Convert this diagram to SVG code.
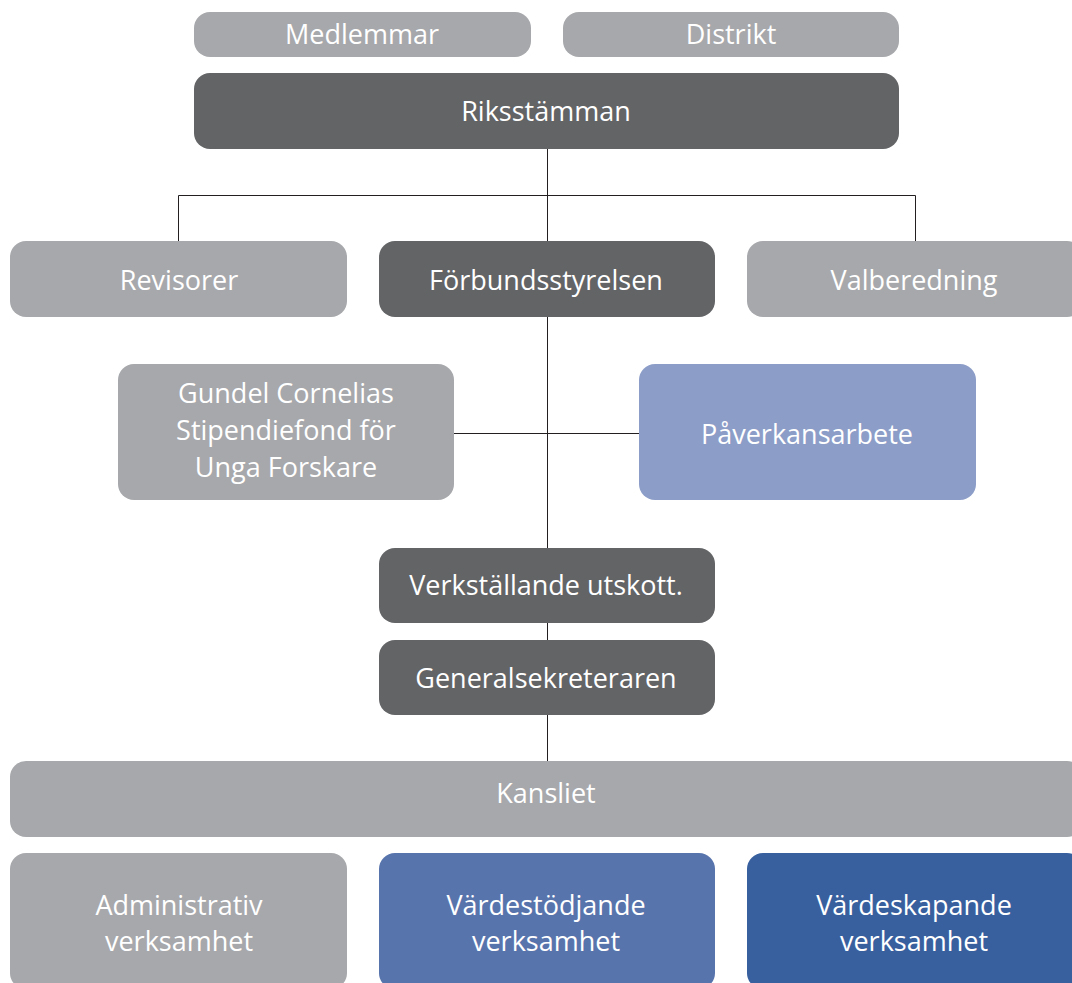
<svg xmlns="http://www.w3.org/2000/svg" width="1072" height="983" viewBox="0 0 1072 983">
<style>
.lg{fill:#a7a8ab}
.dk{fill:#636466}
.b1{fill:#8c9dc8}
.b2{fill:#5874ad}
.b3{fill:#38609f}
text{font-family:"Open Sans","Noto Sans",sans-serif;font-size:27px;fill:#ffffff;text-anchor:middle}
.c{stroke:#231f20;stroke-width:1;fill:none}
</style>
<rect width="1072" height="983" fill="#ffffff"/>
<g id="connectors">
<path class="c" d="M547.5 149V241M178.5 241V195.5H915.5V241M547.5 317V548M454 433.5H639M547.5 623V640M547.5 715V761"/>
</g>
<g id="medlemmar"><rect class="lg" x="194" y="12" width="337" height="45" rx="16"/><text x="362" y="44">Medlemmar</text></g>
<g id="distrikt"><rect class="lg" x="563" y="12" width="336" height="45" rx="16"/><text x="731" y="44">Distrikt</text></g>
<g id="riksstamman"><rect class="dk" x="194" y="73" width="705" height="76" rx="16"/><text x="546" y="121">Riksstämman</text></g>
<g id="revisorer"><rect class="lg" x="10" y="241" width="337" height="76" rx="16"/><text x="179" y="290">Revisorer</text></g>
<g id="forbundsstyrelsen"><rect class="dk" x="379" y="241" width="336" height="76" rx="16"/><text x="546" y="290">Förbundsstyrelsen</text></g>
<g id="valberedning"><rect class="lg" x="747" y="241" width="336" height="76" rx="16"/><text x="914" y="290">Valberedning</text></g>
<g id="gundel"><rect class="lg" x="118" y="364" width="336" height="136" rx="16"/><text x="286" y="403">Gundel Cornelias</text><text x="286" y="440">Stipendiefond för</text><text x="286" y="477">Unga Forskare</text></g>
<g id="paverkansarbete"><rect class="b1" x="639" y="364" width="337" height="136" rx="16"/><text x="807" y="444">Påverkansarbete</text></g>
<g id="verkstallande"><rect class="dk" x="379" y="548" width="336" height="75" rx="16"/><text x="546" y="595">Verkställande utskott.</text></g>
<g id="generalsekreteraren"><rect class="dk" x="379" y="640" width="336" height="75" rx="16"/><text x="546" y="688">Generalsekreteraren</text></g>
<g id="kansliet"><rect class="lg" x="10" y="761" width="1073" height="76" rx="16"/><text x="546" y="803">Kansliet</text></g>
<g id="administrativ"><rect class="lg" x="10" y="853" width="337" height="136" rx="16"/><text x="179" y="915">Administrativ</text><text x="179" y="951">verksamhet</text></g>
<g id="vardestodjande"><rect class="b2" x="379" y="853" width="336" height="136" rx="16"/><text x="546" y="915">Värdestödjande</text><text x="546" y="951">verksamhet</text></g>
<g id="vardeskapande"><rect class="b3" x="747" y="853" width="336" height="136" rx="16"/><text x="914" y="915">Värdeskapande</text><text x="914" y="951">verksamhet</text></g>
</svg>
